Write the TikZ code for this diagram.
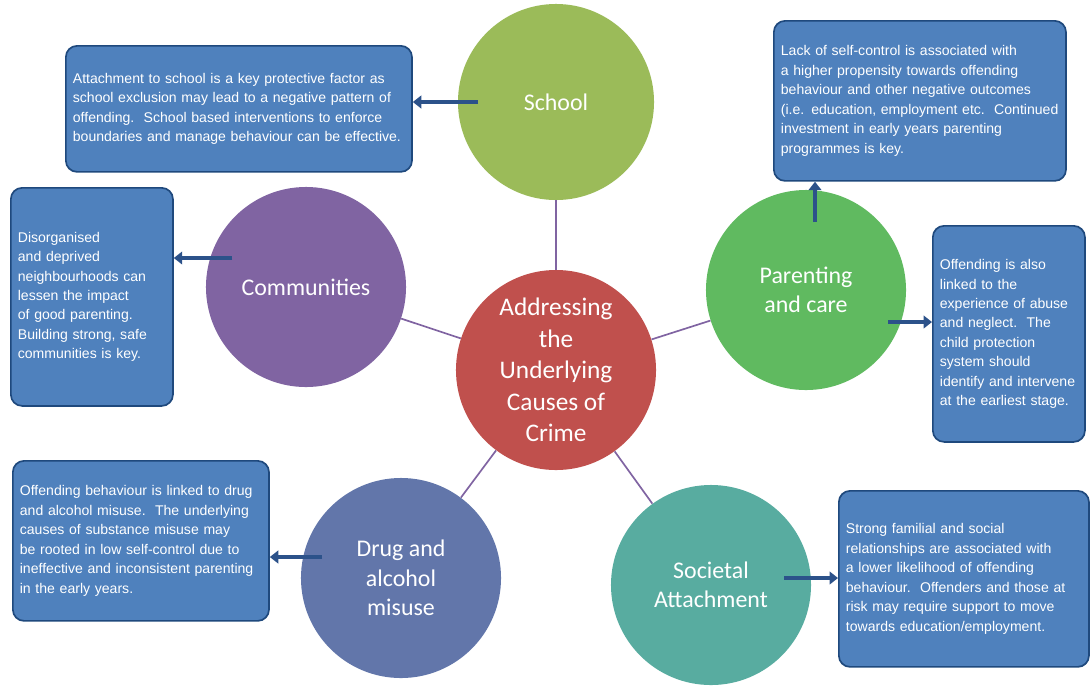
\documentclass[tikz,border=0pt]{standalone}
\usepackage{fontspec}
\setmainfont{Liberation Sans}
\newfontfamily\circfont{Carlito}
\usetikzlibrary{arrows.meta}
\definecolor{boxblue}{RGB}{79,129,189}
\definecolor{boxedge}{RGB}{31,73,125}
\definecolor{arrblue}{RGB}{44,82,138}
\definecolor{crimered}{RGB}{192,80,77}
\definecolor{schoolgreen}{RGB}{155,187,89}
\definecolor{parentgreen}{RGB}{96,186,96}
\definecolor{commpurple}{RGB}{128,100,162}
\definecolor{drugblue}{RGB}{98,118,170}
\definecolor{socteal}{RGB}{88,172,160}
\newcommand\infofont{\fontsize{10}{13.8}\selectfont\hyphenpenalty=10000 \exhyphenpenalty=10000 }
\tikzset{
  px/.style={x=0.025cm,y=-0.025cm},
  topic/.style={circle,minimum size=5cm,inner sep=0pt,align=center,text=white,font=\circfont\fontsize{17}{21}\selectfont},
  info/.style={draw=boxedge,line width=1.2pt,fill=boxblue,rounded corners=8pt,text=white,align=left,font=\infofont,inner sep=5pt,anchor=north west},
  spoke/.style={commpurple,line width=1.2pt},
  pointer/.style={arrblue,line width=3pt,-{Triangle[length=6pt,width=9pt]}}
}
\begin{document}
\begin{tikzpicture}[px]
\useasboundingbox (0,0) rectangle (1091,699);

% Kreise
\node[topic,fill=crimered,minimum size=5cm,font=\circfont\fontsize{18}{22.5}\selectfont] (crime) at (556,370) {Addressing\\the\\Underlying\\Causes of\\Crime};
\node[topic,fill=schoolgreen,minimum size=4.9cm] (school) at (556,102) {School};
\node[topic,fill=parentgreen] (parent) at (806,290) {Parenting\\and care};
\node[topic,fill=commpurple] (comm) at (306,287) {Communities};
\node[topic,fill=drugblue] (drug) at (401,578) {Drug and\\alcohol\\misuse};
\node[topic,fill=socteal] (soc) at (711,585) {Societal\\Attachment};

% Speichen
\foreach \t in {school,parent,comm,drug,soc}
  \draw[spoke] (crime) -- (\t);

% Textfelder
\node[info,text width=8.3cm,minimum height=3.15cm] (schoolbox) at (65,45) {Attachment to school is a key protective factor as school exclusion may lead to a negative pattern of offending.\ \ School based interventions to enforce boundaries and manage behaviour can be effective.};
\node[info,text width=6.95cm,minimum height=4cm] (parentbox) at (773,20) {Lack of self-control is associated with a higher propensity towards offending behaviour and other negative outcomes (i.e. education, employment etc.\ \ Continued investment in early years parenting programmes is key.};
\node[info,text width=3.7cm,minimum height=5.45cm] (commbox) at (10,187) {Disorganised and deprived neighbourhoods can lessen the impact of good parenting. Building strong, safe communities is key.};
\node[info,text width=3.45cm,minimum height=5.4cm] (carebox) at (932,225) {Offending is also linked to the experience of abuse and neglect.\ \ The child protection system should identify and intervene at the earliest stage.};
\node[info,text width=6.05cm,minimum height=4cm] (drugbox) at (12,460) {Offending behaviour is linked to drug and alcohol misuse.\ \ The underlying causes of substance misuse may be rooted in low self-control due to ineffective and inconsistent parenting in the early years.};
\node[info,text width=5.9cm,minimum height=4.4cm] (socbox) at (838,490) {Strong familial and social relationships are associated with a lower likelihood of offending behaviour.\ \ Offenders and those at risk may require support to move towards education/employment.};

% Pfeile
\coordinate (s1) at (478,102);
\coordinate (p1) at (815,222);
\coordinate (c1) at (232,258);
\coordinate (r1) at (888,322);
\coordinate (d1) at (322,557);
\coordinate (q1) at (784,578);
\draw[pointer] (s1) -- (s1 -| schoolbox.east);
\draw[pointer] (p1) -- (p1 |- parentbox.south);
\draw[pointer] (c1) -- (c1 -| commbox.east);
\draw[pointer] (r1) -- (r1 -| carebox.west);
\draw[pointer] (d1) -- (d1 -| drugbox.east);
\draw[pointer] (q1) -- (q1 -| socbox.west);
\end{tikzpicture}
\end{document}
